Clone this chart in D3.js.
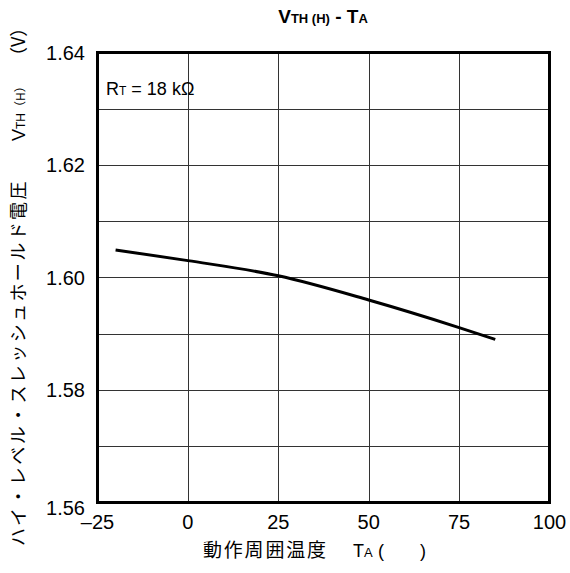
<!DOCTYPE html>
<meta charset="utf-8">
<style>
body { margin: 0; background: #fff; }
svg text { font-family: "Liberation Sans", Arial, sans-serif; fill: #000; }
.jp { font-family: "Noto Sans CJK JP", sans-serif; }
.grid line { stroke: #333; stroke-width: 1px; shape-rendering: crispEdges; }
</style>
<svg width="570" height="573"></svg>
<script src="https://d3js.org/d3.v7.min.js"></script>
<script>

// curve
var temps = [-20, 0, 25, 50, 75, 85];
var volts = [1.6049, 1.6030, 1.6003, 1.5960, 1.5911, 1.5890];

var xTicks = [-25, 0, 25, 50, 75, 100];
var xTickLabels = ["\u201325", "0", "25", "50", "75", "100"];
var yTicks = [1.56, 1.58, 1.60, 1.62, 1.64];
var yGrid = [1.57, 1.58, 1.59, 1.60, 1.61, 1.62, 1.63];

var svg = d3.select("svg");

var plotLeft = 97.5, plotTop = 52.5, w = 452, h = 450;

var x = d3.scaleLinear().domain([-25, 100]).range([plotLeft, plotLeft + w]);
var y = d3.scaleLinear().domain([1.56, 1.64]).range([plotTop + h, plotTop]);

// grid
var grid = svg.append("g").attr("class", "grid");
grid.selectAll(".v").data(xTicks.slice(1, -1)).enter().append("line")
    .attr("x1", function(d) { return Math.round(x(d)) + 0.5; })
    .attr("x2", function(d) { return Math.round(x(d)) + 0.5; })
    .attr("y1", plotTop).attr("y2", plotTop + h);
grid.selectAll(".h").data(yGrid).enter().append("line")
    .attr("y1", function(d) { return Math.round(y(d)) + 0.5; })
    .attr("y2", function(d) { return Math.round(y(d)) + 0.5; })
    .attr("x1", plotLeft).attr("x2", plotLeft + w);

// frame
svg.append("rect")
    .attr("x", plotLeft).attr("y", plotTop).attr("width", w).attr("height", h)
    .attr("fill", "none").attr("stroke", "#000").attr("stroke-width", 3);

// curve
var pts = temps.map(function(t, i) { return [t, volts[i]]; });
svg.append("path")
    .datum(pts)
    .attr("fill", "none")
    .attr("stroke", "#000")
    .attr("stroke-width", 3)
    .attr("d", d3.line()
        .x(function(d) { return x(d[0]); })
        .y(function(d) { return y(d[1]); })
        .curve(d3.curveMonotoneX));

// tick labels
svg.selectAll(".xt").data(xTicks).enter().append("text")
    .attr("x", function(d) { return x(d); })
    .attr("y", 529)
    .attr("text-anchor", "middle")
    .style("font-size", "20px")
    .text(function(d, i) { return xTickLabels[i]; });

svg.selectAll(".yt").data(yTicks).enter().append("text")
    .attr("x", 85)
    .attr("y", function(d) { return y(d) + (d == 1.56 ? 12 : 7); })
    .attr("text-anchor", "end")
    .style("font-size", "20px")
    .text(function(d) { return d.toFixed(2); });

// title
var title = svg.append("text")
    .attr("x", 323).attr("y", 23)
    .attr("text-anchor", "middle")
    .style("font-weight", "bold");
title.append("tspan").style("font-size", "19px").text("V");
title.append("tspan").style("font-size", "13px").text("TH (H)");
title.append("tspan").style("font-size", "19px").text(" - T");
title.append("tspan").style("font-size", "13px").text("A");

// resistor note
var note = svg.append("text").attr("x", 106).attr("y", 95);
note.append("tspan").style("font-size", "18px").text("R");
note.append("tspan").style("font-size", "12px").text("T");
note.append("tspan").style("font-size", "18px").text(" = 18 k\u03A9");

// x axis title
var xt = svg.append("text").attr("x", 203).attr("y", 557);
xt.append("tspan").attr("class", "jp").style("font-size", "19px")
    .style("letter-spacing", "1.8px").text("動作周囲温度");
xt.append("tspan").attr("x", 353).style("font-size", "18px").text("T");
xt.append("tspan").style("font-size", "13px").text("A");
xt.append("tspan").attr("x", 378).style("font-size", "18px").text("(");
xt.append("tspan").attr("x", 420).style("font-size", "18px").text(")");

// y axis title
var yt = svg.append("text")
    .attr("transform", "translate(25,546) rotate(-90)");
yt.append("tspan").attr("class", "jp").style("font-size", "18px")
    .style("letter-spacing", "2.4px").text("ハイ・レベル・スレッシュホールド電圧");
yt.append("tspan").attr("x", 405).style("font-size", "18px").text("V");
yt.append("tspan").style("font-size", "12px").text("TH");
yt.append("tspan").attr("class", "jp").style("font-size", "12px").text("（H）");
yt.append("tspan").attr("class", "jp").attr("x", 481).style("font-size", "18px").text("（V）");

</script>
